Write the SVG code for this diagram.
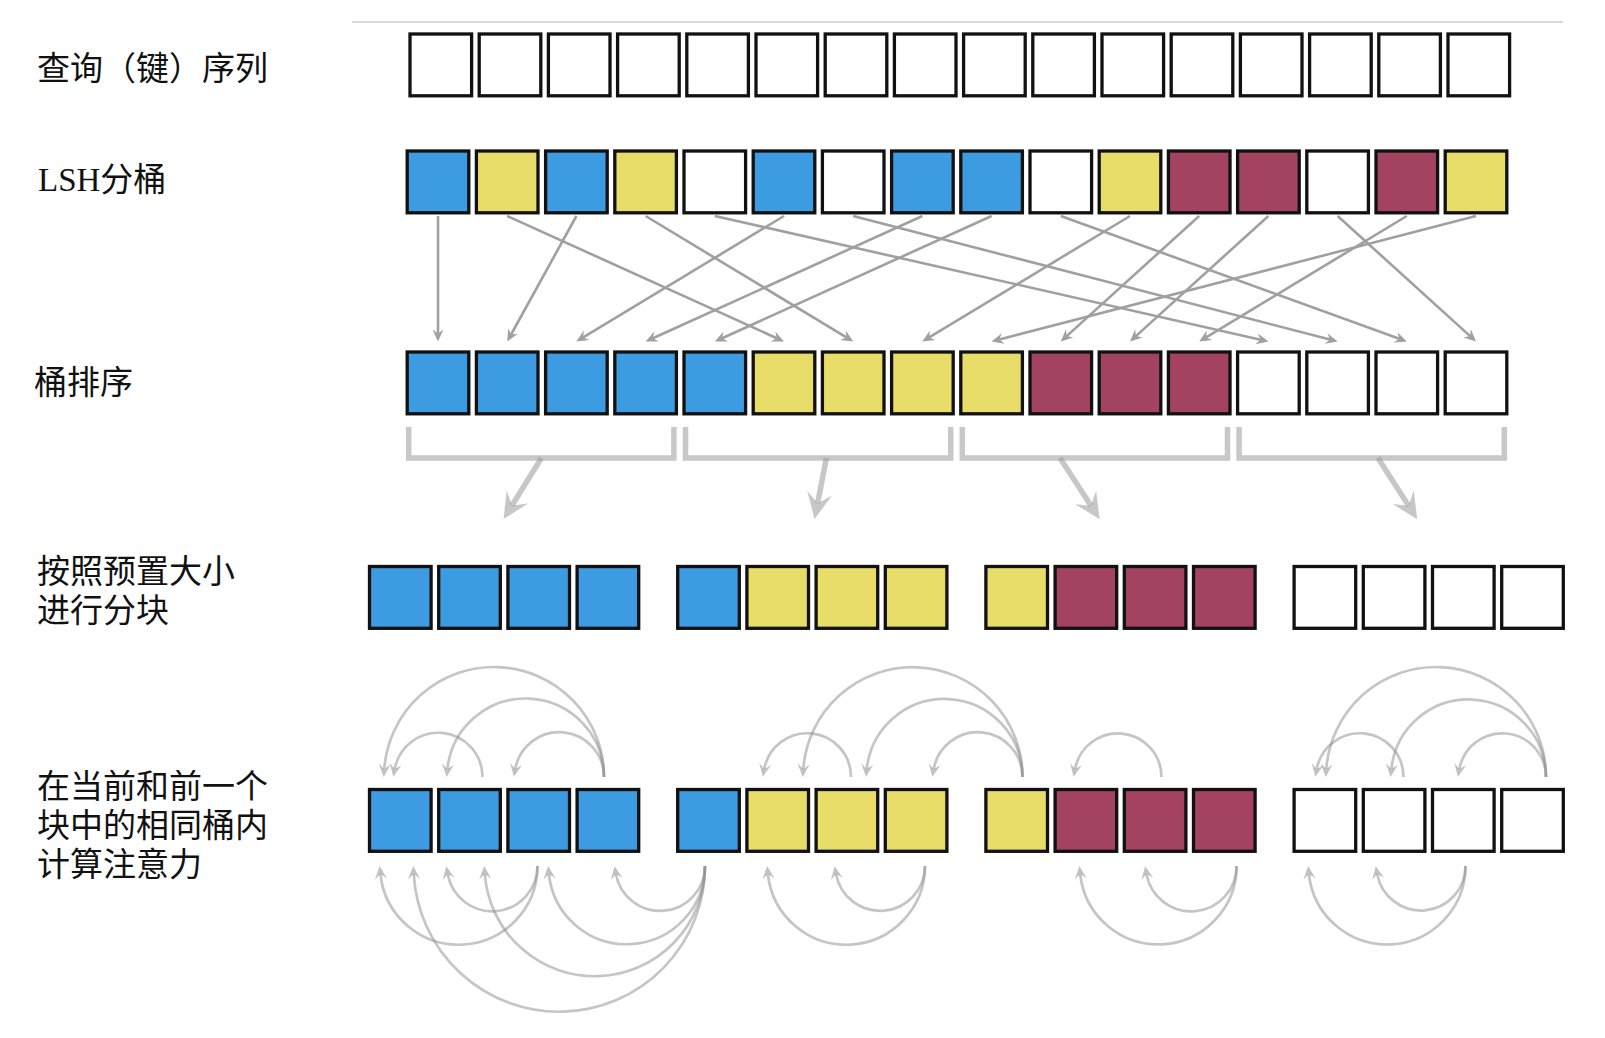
<svg xmlns="http://www.w3.org/2000/svg" width="1605" height="1038" viewBox="0 0 1605 1038">
<defs>
<style>
text{font-family:"Liberation Serif","Noto Sans CJK SC",serif;font-size:33px;fill:#111}
rect{stroke:#111;stroke-width:3.3;width:61.6px;height:61.8px}
.b{fill:#3d9be1}.y{fill:#e9dd69}.m{fill:#a34360}.w{fill:#fff}
.c{fill:none;stroke:#a0a0a0;stroke-width:2.6;marker-end:url(#ah)}
.a{fill:none;stroke:#8f8f8f;stroke-opacity:.52;stroke-width:2.7;marker-end:url(#al)}
.t{fill:none;stroke:#999;stroke-opacity:.55;stroke-width:5.5;marker-end:url(#at)}
.br{fill:none;stroke:#c8c8c8;stroke-width:5.5}
</style>
<marker id="ah" markerUnits="userSpaceOnUse" viewBox="-14 -7 16 14" markerWidth="16" markerHeight="14" refX="-8" refY="0" orient="auto">
<path d="M0,0 L-12,-5.5 L-8,0 L-12,5.5 Z" fill="#a0a0a0"/>
</marker>
<marker id="al" markerUnits="userSpaceOnUse" viewBox="-15 -8 17 16" markerWidth="17" markerHeight="16" refX="-8" refY="0" orient="auto">
<path d="M0,0 L-13,-6 L-8,0 L-13,6 Z" fill="#8f8f8f" fill-opacity=".55"/>
</marker>
<marker id="at" markerUnits="userSpaceOnUse" viewBox="-28 -14 30 28" markerWidth="30" markerHeight="28" refX="-16" refY="0" orient="auto">
<path d="M0,0 L-26,-12.5 L-16,0 L-26,12.5 Z" fill="#999" fill-opacity=".55"/>
</marker>
</defs>
<rect x="0" y="0" width="1605" height="1038" style="fill:#fff;stroke:none;width:1605px;height:1038px"/>
<line x1="352" y1="22" x2="1563" y2="22" stroke="#cccccc" stroke-width="1.5"/>

<g id="labels">
<text x="37" y="80">查询（键）序列</text>
<text x="38" y="190.5">LSH分桶</text>
<text x="34" y="394">桶排序</text>
<text x="37" y="583">按照预置大小</text>
<text x="37" y="621.5">进行分块</text>
<text x="37" y="798">在当前和前一个</text>
<text x="37" y="837">块中的相同桶内</text>
<text x="37" y="876">计算注意力</text>
</g>

<g id="row-query">
<g id="q1"><rect class="w" x="410" y="34"/></g>
<g id="q2"><rect class="w" x="479.2" y="34"/></g>
<g id="q3"><rect class="w" x="548.4" y="34"/></g>
<g id="q4"><rect class="w" x="617.6" y="34"/></g>
<g id="q5"><rect class="w" x="686.8" y="34"/></g>
<g id="q6"><rect class="w" x="756" y="34"/></g>
<g id="q7"><rect class="w" x="825.2" y="34"/></g>
<g id="q8"><rect class="w" x="894.4" y="34"/></g>
<g id="q9"><rect class="w" x="963.6" y="34"/></g>
<g id="q10"><rect class="w" x="1032.8" y="34"/></g>
<g id="q11"><rect class="w" x="1102" y="34"/></g>
<g id="q12"><rect class="w" x="1171.2" y="34"/></g>
<g id="q13"><rect class="w" x="1240.4" y="34"/></g>
<g id="q14"><rect class="w" x="1309.6" y="34"/></g>
<g id="q15"><rect class="w" x="1378.8" y="34"/></g>
<g id="q16"><rect class="w" x="1448" y="34"/></g>
</g>

<g id="row-lsh">
<g id="h1"><rect class="b" x="407.2" y="151"/></g>
<g id="h2"><rect class="y" x="476.4" y="151"/></g>
<g id="h3"><rect class="b" x="545.6" y="151"/></g>
<g id="h4"><rect class="y" x="614.8" y="151"/></g>
<g id="h5"><rect class="w" x="684" y="151"/></g>
<g id="h6"><rect class="b" x="753.2" y="151"/></g>
<g id="h7"><rect class="w" x="822.4" y="151"/></g>
<g id="h8"><rect class="b" x="891.6" y="151"/></g>
<g id="h9"><rect class="b" x="960.8" y="151"/></g>
<g id="h10"><rect class="w" x="1030" y="151"/></g>
<g id="h11"><rect class="y" x="1099.2" y="151"/></g>
<g id="h12"><rect class="m" x="1168.4" y="151"/></g>
<g id="h13"><rect class="m" x="1237.6" y="151"/></g>
<g id="h14"><rect class="w" x="1306.8" y="151"/></g>
<g id="h15"><rect class="m" x="1376" y="151"/></g>
<g id="h16"><rect class="y" x="1445.2" y="151"/></g>
</g>

<g id="row-sorted">
<g id="s1"><rect class="b" x="407.2" y="352"/></g>
<g id="s2"><rect class="b" x="476.4" y="352"/></g>
<g id="s3"><rect class="b" x="545.6" y="352"/></g>
<g id="s4"><rect class="b" x="614.8" y="352"/></g>
<g id="s5"><rect class="b" x="684" y="352"/></g>
<g id="s6"><rect class="y" x="753.2" y="352"/></g>
<g id="s7"><rect class="y" x="822.4" y="352"/></g>
<g id="s8"><rect class="y" x="891.6" y="352"/></g>
<g id="s9"><rect class="y" x="960.8" y="352"/></g>
<g id="s10"><rect class="m" x="1030" y="352"/></g>
<g id="s11"><rect class="m" x="1099.2" y="352"/></g>
<g id="s12"><rect class="m" x="1168.4" y="352"/></g>
<g id="s13"><rect class="w" x="1237.6" y="352"/></g>
<g id="s14"><rect class="w" x="1306.8" y="352"/></g>
<g id="s15"><rect class="w" x="1376" y="352"/></g>
<g id="s16"><rect class="w" x="1445.2" y="352"/></g>
</g>

<g id="brackets">
<path class="br" d="M408.7,427 V458 H673.9 V427"/>
<path class="br" d="M685.5,427 V458 H950.7 V427"/>
<path class="br" d="M962.3,427 V458 H1227.5 V427"/>
<path class="br" d="M1239.1,427 V458 H1504.3 V427"/>
</g>

<g id="row-chunks">
<g id="k1"><rect class="b" x="369.5" y="566.5"/></g>
<g id="k2"><rect class="b" x="438.7" y="566.5"/></g>
<g id="k3"><rect class="b" x="507.9" y="566.5"/></g>
<g id="k4"><rect class="b" x="577.1" y="566.5"/></g>
<g id="k5"><rect class="b" x="677.7" y="566.5"/></g>
<g id="k6"><rect class="y" x="746.9" y="566.5"/></g>
<g id="k7"><rect class="y" x="816.1" y="566.5"/></g>
<g id="k8"><rect class="y" x="885.3" y="566.5"/></g>
<g id="k9"><rect class="y" x="985.9" y="566.5"/></g>
<g id="k10"><rect class="m" x="1055.1" y="566.5"/></g>
<g id="k11"><rect class="m" x="1124.3" y="566.5"/></g>
<g id="k12"><rect class="m" x="1193.5" y="566.5"/></g>
<g id="k13"><rect class="w" x="1294.1" y="566.5"/></g>
<g id="k14"><rect class="w" x="1363.3" y="566.5"/></g>
<g id="k15"><rect class="w" x="1432.5" y="566.5"/></g>
<g id="k16"><rect class="w" x="1501.7" y="566.5"/></g>
</g>

<g id="row-attention">
<g id="t1"><rect class="b" x="369.5" y="789.5"/></g>
<g id="t2"><rect class="b" x="438.7" y="789.5"/></g>
<g id="t3"><rect class="b" x="507.9" y="789.5"/></g>
<g id="t4"><rect class="b" x="577.1" y="789.5"/></g>
<g id="t5"><rect class="b" x="677.7" y="789.5"/></g>
<g id="t6"><rect class="y" x="746.9" y="789.5"/></g>
<g id="t7"><rect class="y" x="816.1" y="789.5"/></g>
<g id="t8"><rect class="y" x="885.3" y="789.5"/></g>
<g id="t9"><rect class="y" x="985.9" y="789.5"/></g>
<g id="t10"><rect class="m" x="1055.1" y="789.5"/></g>
<g id="t11"><rect class="m" x="1124.3" y="789.5"/></g>
<g id="t12"><rect class="m" x="1193.5" y="789.5"/></g>
<g id="t13"><rect class="w" x="1294.1" y="789.5"/></g>
<g id="t14"><rect class="w" x="1363.3" y="789.5"/></g>
<g id="t15"><rect class="w" x="1432.5" y="789.5"/></g>
<g id="t16"><rect class="w" x="1501.7" y="789.5"/></g>
</g>

<g id="connectors">
<g id="sort-arrows">
<path class="c" d="M438,216 L438,333.5"/>
<path class="c" d="M507.2,216 L776.7,338.2"/>
<path class="c" d="M576.4,216 L511.1,334.5"/>
<path class="c" d="M645.6,216 L846.4,337.4"/>
<path class="c" d="M714.8,216 L1260.6,339.7"/>
<path class="c" d="M784,216 L583.2,337.4"/>
<path class="c" d="M853.2,216 L1329.9,339.5"/>
<path class="c" d="M922.4,216 L652.9,338.2"/>
<path class="c" d="M991.6,216 L722.1,338.2"/>
<path class="c" d="M1060.8,216 L1399.3,338.8"/>
<path class="c" d="M1130,216 L929.2,337.4"/>
<path class="c" d="M1199.2,216 L1066.7,336.1"/>
<path class="c" d="M1268.4,216 L1135.9,336.1"/>
<path class="c" d="M1337.6,216 L1470.1,336.1"/>
<path class="c" d="M1406.8,216 L1206.1,337.4"/>
<path class="c" d="M1476,216 L999.3,339.5"/>
</g>
<g id="chunk-arrows">
<path class="t" d="M541.4,458 L512,505.5"/>
<path class="t" d="M826.4,458 L817.6,503.3"/>
<path class="t" d="M1060,458 L1091,505.8"/>
<path class="t" d="M1378,458 L1408.6,505.7"/>
</g>
<g id="arcs-top">
<path class="a" d="M604,777 A110,110 0 0 0 384.29,769"/>
<path class="a" d="M604,777 A78.5,78.5 0 0 0 447.41,769"/>
<path class="a" d="M604,777 A44.75,44.75 0 0 0 515.22,769"/>
<path class="a" d="M482.5,777 A44.25,44.25 0 0 0 394.73,769"/>
<path class="a" d="M851,777 A43.75,43.75 0 0 0 764.24,769"/>
<path class="a" d="M1022.5,777 A109.75,109.75 0 0 0 803.29,769"/>
<path class="a" d="M1022.5,777 A78.05,78.05 0 0 0 866.81,769"/>
<path class="a" d="M1022.5,777 A44.75,44.75 0 0 0 933.72,769"/>
<path class="a" d="M1161.5,777 A43.6,43.6 0 0 0 1075.04,769"/>
<path class="a" d="M1403.5,777 A43.75,43.75 0 0 0 1316.74,769"/>
<path class="a" d="M1546,777 A110,110 0 0 0 1326.29,769"/>
<path class="a" d="M1546,777 A77.5,77.5 0 0 0 1391.41,769"/>
<path class="a" d="M1546,777 A43.7,43.7 0 0 0 1459.34,769"/>
</g>
<g id="arcs-bottom">
<path class="a" d="M537.5,866 A78.75,78.75 0 0 1 380.41,874"/>
<path class="a" d="M537.5,866 A45.25,45.25 0 0 1 447.71,874"/>
<path class="a" d="M705,866 A145.75,145.75 0 0 1 413.72,874"/>
<path class="a" d="M705,866 A110.25,110.25 0 0 1 484.79,874"/>
<path class="a" d="M705,866 A78.25,78.25 0 0 1 548.91,874"/>
<path class="a" d="M705,866 A44.9,44.9 0 0 1 615.92,874"/>
<path class="a" d="M925,866 A78.75,78.75 0 0 1 767.91,874"/>
<path class="a" d="M925,866 A44.85,44.85 0 0 1 836.02,874"/>
<path class="a" d="M1236.6,866 A78.4,78.4 0 0 1 1080.21,874"/>
<path class="a" d="M1236.6,866 A45.4,45.4 0 0 1 1146.51,874"/>
<path class="a" d="M1465.5,866 A78.5,78.5 0 0 1 1308.91,874"/>
<path class="a" d="M1465.5,866 A44.5,44.5 0 0 1 1377.22,874"/>
</g>
</g>
</svg>
